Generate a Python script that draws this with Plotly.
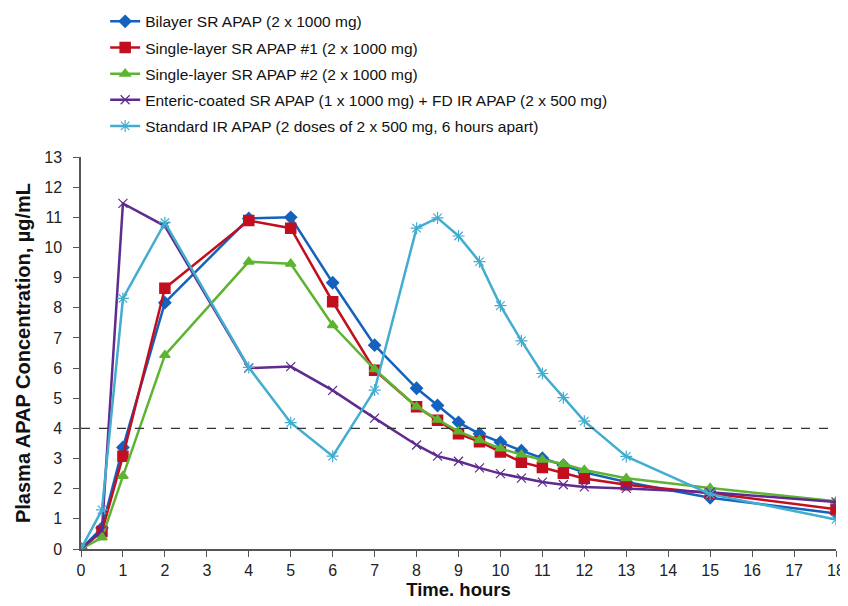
import plotly.graph_objects as go

time_h = [0, 0.5, 1, 2, 4, 5, 6, 7, 8, 8.5, 9, 9.5, 10, 10.5, 11, 11.5, 12, 13, 15, 18]

bilayer = [0, 0.70, 3.37, 8.17, 10.96, 11.00, 8.83, 6.76, 5.33, 4.76, 4.20, 3.82, 3.54, 3.26, 3.01, 2.78, 2.54, 2.22, 1.70, 1.18]
single1 = [0, 0.58, 3.08, 8.65, 10.89, 10.64, 8.20, 5.93, 4.72, 4.27, 3.82, 3.56, 3.22, 2.88, 2.70, 2.51, 2.34, 2.13, 1.85, 1.32]
single2 = [0, 0.38, 2.42, 6.43, 9.53, 9.46, 7.42, 5.96, 4.72, 4.29, 3.90, 3.61, 3.33, 3.13, 2.96, 2.82, 2.62, 2.35, 2.02, 1.58]
enteric = [0, 0.62, 11.46, 10.71, 6.00, 6.05, 5.26, 4.34, 3.45, 3.08, 2.91, 2.69, 2.50, 2.35, 2.22, 2.13, 2.06, 2.01, 1.88, 1.56]
standard = [0, 1.30, 8.31, 10.82, 6.02, 4.19, 3.08, 5.27, 10.64, 10.98, 10.38, 9.53, 8.07, 6.90, 5.82, 5.02, 4.24, 3.07, 1.82, 0.98]

names = [
    "Bilayer SR APAP (2 x 1000 mg)",
    "Single-layer SR APAP #1 (2 x 1000 mg)",
    "Single-layer SR APAP #2 (2 x 1000 mg)",
    "Enteric-coated SR APAP (1 x 1000 mg) + FD IR APAP (2 x 500 mg)",
    "Standard IR APAP (2 doses of 2 x 500 mg, 6 hours apart)",
]
series = [bilayer, single1, single2, enteric, standard]
colors = ["#1562BD", "#C20F1F", "#5DB431", "#5F2B8E", "#42ADCF"]
symbols = ["diamond", "square", "triangle-up", "x-thin-open", "asterisk-open"]
sizes = [9, 10, 9, 9, 10]
mlw = [1.5, 1.5, 1.5, 1.2, 1.2]

threshold = 4
x_ticks = list(range(0, 19))
y_ticks = list(range(0, 14))

fig = go.Figure()
for i, (name, ys, c, s, sz, w) in enumerate(zip(names, series, colors, symbols, sizes, mlw)):
    fig.add_trace(go.Scatter(
        x=time_h, y=ys, name=name, mode="lines+markers", legendgroup=f"g{i}",
        line=dict(color=c, width=2.5),
        marker=dict(symbol=s, size=sz, color=c, line=dict(color=c, width=w)),
    ))

fig.add_shape(type="line", xref="x", yref="y", x0=0, x1=18, y0=threshold, y1=threshold,
              line=dict(color="#333333", width=1.3, dash="dash"))

# page adds an 8px body margin; figure 840x598, plot area x 73..828, y 149..541
fig.update_layout(
    width=840, height=598,
    margin=dict(l=73, r=12, t=0, b=57, autoexpand=False),
    paper_bgcolor="white", plot_bgcolor="white",
    font=dict(family="Liberation Sans, Arial, sans-serif", size=16, color="#222222"),
    showlegend=True,
    legend=dict(x=0.032, y=1.006, xanchor="left", yanchor="top",
                font=dict(size=15.5, color="#111111"), bgcolor="rgba(0,0,0,0)",
                tracegroupgap=3, itemwidth=30),
    xaxis=dict(range=[0, 18], tickvals=x_ticks, ticks="outside", ticklen=6, tickcolor="#555555",
               showline=True, linecolor="#555555", linewidth=1.5, showgrid=False, zeroline=False,
               automargin=False,
               title=dict(text="<b>Time. hours</b>", font=dict(size=18.5, color="#111111"), standoff=3),
               tickfont=dict(size=16)),
    yaxis=dict(range=[0, 13], tickvals=y_ticks, ticks="outside", ticklen=6, tickcolor="#555555",
               showline=True, linecolor="#555555", linewidth=1.5, showgrid=False, zeroline=False,
               automargin=False, domain=[0, 392 / 541], ticklabelstandoff=8,
               title=dict(text="<b>Plasma APAP Concentration, µg/mL</b>", font=dict(size=20, color="#111111"), standoff=8),
               tickfont=dict(size=16)),
)

fig.write_html("out.html")
